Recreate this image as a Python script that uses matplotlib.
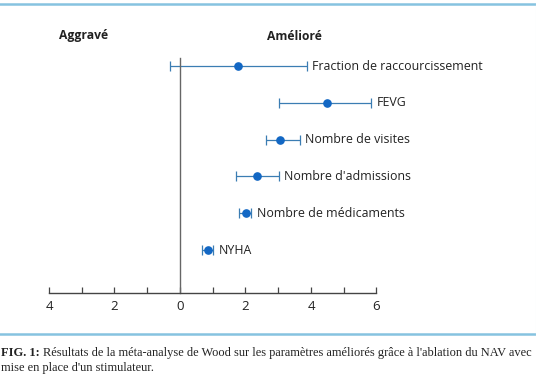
import matplotlib
matplotlib.use("Agg")
import matplotlib.pyplot as plt
from matplotlib.lines import Line2D

# Data
labels = ["Fraction de raccourcissement", "FEVG", "Nombre de visites",
          "Nombre d'admissions", "Nombre de médicaments", "NYHA"]
estimates = [1.76, 4.50, 3.06, 2.35, 2.02, 0.86]
ci_low = [-0.30, 3.01, 2.63, 1.70, 1.81, 0.68]
ci_high = [3.87, 5.83, 3.66, 3.02, 2.17, 1.00]
tick_values = [-4, -3, -2, -1, 0, 1, 2, 3, 4, 5, 6]
tick_labels = ["4", "", "2", "", "0", "", "2", "", "4", "", "6"]

W, H = 536, 386
fig = plt.figure(figsize=(W / 100, H / 100), dpi=100)
fig.patch.set_facecolor("white")

x0_px, unit_px = 180.0, 32.75
row0_px, row_step = 66.0, 36.8
axis_px = 293.0
ax = fig.add_axes([0, 0, 1, 1])
ax.set_xlim(-x0_px / unit_px, (W - x0_px) / unit_px)
ax.set_ylim((H - row0_px) / row_step, -row0_px / row_step)
ax.patch.set_alpha(0)

axis_y = (axis_px - row0_px) / row_step
top_y = (58 - row0_px) / row_step

rows = list(range(len(labels)))
err_lo = [e - l for e, l in zip(estimates, ci_low)]
err_hi = [h - e for e, h in zip(estimates, ci_high)]
ax.errorbar(estimates, rows, xerr=[err_lo, err_hi], fmt="none",
            ecolor="#3b7db3", elinewidth=0.9, capsize=3.5, capthick=0.9, zorder=2)
ax.plot(estimates, rows, "o", color="#1267c4", markersize=5.2, zorder=3)

label_font = ["Open Sans", "DejaVu Sans"]
for r, h, lab in zip(rows, ci_high, labels):
    ax.annotate(lab, (h, r), xytext=(4, 0), textcoords="offset points",
                va="center", ha="left", fontsize=8.9, color="#222222",
                family=label_font)

ax.text(59 / W, 1 - 36 / H, "Aggravé", transform=fig.transFigure, fontsize=8.7,
        fontweight="bold", ha="left", va="center", color="#222222", family=label_font)
ax.text(294 / W, 1 - 36 / H, "Amélioré", transform=fig.transFigure, fontsize=8.7,
        fontweight="bold", ha="center", va="center", color="#222222", family=label_font)

# axes styling
for s in ["top", "right"]:
    ax.spines[s].set_visible(False)
ax.spines["bottom"].set_position(("data", axis_y))
ax.spines["bottom"].set_bounds(-4, 6)
ax.spines["left"].set_position(("data", 0))
ax.spines["left"].set_bounds(top_y, axis_y)
ax.spines["bottom"].set_color("#444444")
ax.spines["left"].set_color("#666666")
ax.spines["bottom"].set_linewidth(1.0)
ax.spines["left"].set_linewidth(1.0)
ax.set_yticks([])
ax.set_xticks(tick_values)
ax.set_xticklabels(tick_labels, family=label_font, fontsize=9.5, color="#222222")
ax.tick_params(axis="x", direction="in", length=4, width=0.9, color="#444444", pad=5)

# frame lines
blue = "#86c3e0"
fig.add_artist(Line2D([0, 1], [1 - 4 / H, 1 - 4 / H], transform=fig.transFigure,
                      color=blue, linewidth=1.8))
fig.add_artist(Line2D([0, 1], [1 - 334 / H, 1 - 334 / H], transform=fig.transFigure,
                      color=blue, linewidth=1.8))
fig.add_artist(Line2D([535.5 / W, 535.5 / W], [1 - 334 / H, 1 - 4 / H],
                      transform=fig.transFigure, color="#e6eef2", linewidth=0.8))

# caption
cap_font = ["Liberation Serif", "DejaVu Serif"]
t1 = fig.text(1 / W, 1 - 353 / H, "FIG. 1:", fontsize=9, fontweight="bold",
              family=cap_font, va="center", ha="left", color="#222222")
fig.canvas.draw()
bb = t1.get_window_extent()
fig.text(bb.x1 / W + 3 / W, 1 - 353 / H,
         "Résultats de la méta-analyse de Wood sur les paramètres améliorés grâce à l'ablation du NAV avec",
         fontsize=8.9, family=cap_font, va="center", ha="left", color="#222222")
fig.text(1 / W, 1 - 368 / H, "mise en place d'un stimulateur.", fontsize=8.9,
         family=cap_font, va="center", ha="left", color="#222222")

fig.savefig("out.png", dpi=100)
